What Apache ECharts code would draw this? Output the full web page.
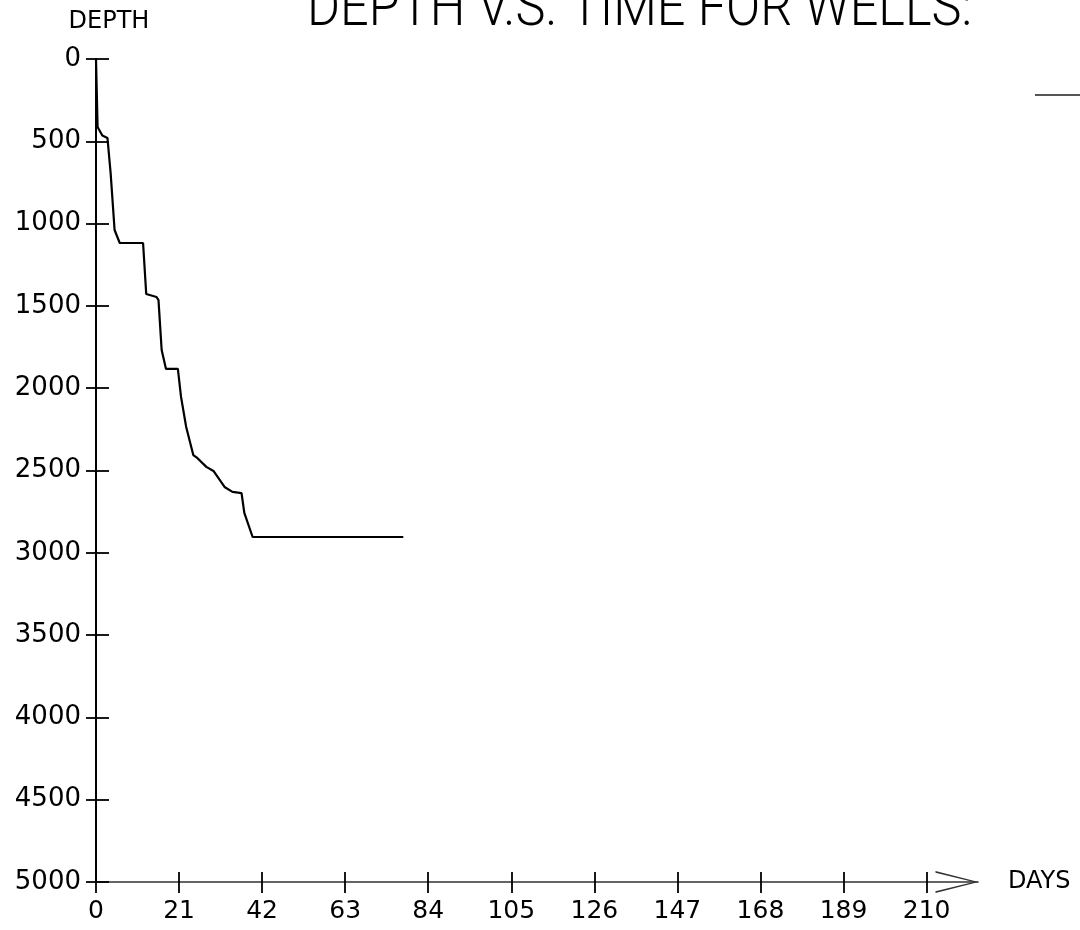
<!DOCTYPE html>
<html>
<head>
<meta charset="utf-8">
<script src="https://cdn.jsdelivr.net/npm/echarts@6/dist/echarts.min.js"></script>
<style>
html,body{margin:0;padding:0;background:#fff;}
#chart{width:1080px;height:930px;}
</style>
</head>
<body>
<div id="chart"></div>
<script>
// ---- data ----
var titleText = 'DEPTH V.S. TIME FOR WELLS:';
var wellName = 'WELL 1';
var days = [0, 0.4, 1.6, 2.9, 3.7, 4.7, 6.0, 11.9, 12.7, 15.3, 15.8, 16.6, 17.7, 20.7, 21.5, 22.8, 24.6, 25.6, 27.9, 29.7, 32.5, 34.5, 36.8, 37.5, 39.6, 77.7];
var depths = [0, 413, 465, 480, 693, 1039, 1118, 1118, 1428, 1446, 1465, 1768, 1883, 1883, 2053, 2236, 2406, 2424, 2478, 2503, 2600, 2630, 2637, 2758, 2904, 2904];
var dayTicks = [0, 21, 42, 63, 84, 105, 126, 147, 168, 189, 210];
var depthTicks = [0, 500, 1000, 1500, 2000, 2500, 3000, 3500, 4000, 4500, 5000];
var dayMax = 223;

var points = days.map(function (d, i) { return [d, depths[i]]; });

var labelFont = 'DejaVu Sans';
var chart = echarts.init(document.getElementById('chart'), null, {renderer: 'canvas'});

var arrowPath = 'path://M11 0 L22 43 L20.3 43 L11 5 L1.7 43 L0 43 Z';
var plain = function (v) { return String(v); };
var gridBox = {left: 96, right: 102, top: 59, bottom: 48, containLabel: false};
var tickStyle = {color: '#000', width: 1.8};

chart.setOption({
  backgroundColor: '#ffffff',
  animation: false,
  grid: [Object.assign({}, gridBox), Object.assign({}, gridBox)],
  legend: {
    left: 1030, top: 89, itemWidth: 50, itemHeight: 2, icon: 'rect',
    formatter: function () { return ''; },
    itemStyle: {color: '#555'},
    data: [wellName]
  },
  graphic: [{
    type: 'text',
    x: 307, y: 39,
    scaleX: 0.9, scaleY: 1,
    style: {
      text: titleText,
      font: '300 56px Roboto',
      fill: '#000',
      verticalAlign: 'bottom',
      align: 'left'
    }
  }],
  xAxis: [{
    type: 'value', min: 0, max: dayMax, gridIndex: 0,
    position: 'bottom',
    name: 'DAYS', nameLocation: 'end', nameGap: 30,
    nameTextStyle: {fontFamily: labelFont, fontSize: 24, color: '#000', padding: [0, 0, 14, 0], align: 'left', verticalAlign: 'middle'},
    axisLine: {show: true, onZero: false, lineStyle: {color: '#333', width: 1.5},
      symbol: ['none', arrowPath], symbolSize: [22, 43], symbolOffset: [0, -21]},
    axisTick: {show: true, inside: false, length: 11, customValues: dayTicks, lineStyle: tickStyle},
    axisLabel: {show: true, customValues: dayTicks, formatter: plain, margin: 17, fontFamily: labelFont, fontSize: 25, color: '#000'},
    splitLine: {show: false}
  }, {
    type: 'value', min: 0, max: dayMax, gridIndex: 1,
    position: 'bottom',
    axisLine: {show: false, onZero: false},
    axisTick: {show: true, inside: true, length: 10, customValues: dayTicks, lineStyle: tickStyle},
    axisLabel: {show: false},
    splitLine: {show: false}
  }],
  yAxis: [{
    type: 'value', min: 0, max: 5000, interval: 500, inverse: true, gridIndex: 0,
    position: 'left',
    name: 'DEPTH', nameLocation: 'start', nameGap: 25,
    nameTextStyle: {fontFamily: labelFont, fontSize: 24, color: '#000', padding: [0, 0, 0, 26]},
    axisLine: {show: true, onZero: false, lineStyle: {color: '#000', width: 2}},
    axisTick: {show: true, inside: false, length: 10, customValues: depthTicks, lineStyle: tickStyle},
    axisLabel: {show: true, customValues: depthTicks, formatter: plain, margin: 15, fontFamily: labelFont, fontSize: 26, color: '#000'},
    splitLine: {show: false}
  }, {
    type: 'value', min: 0, max: 5000, interval: 500, inverse: true, gridIndex: 1,
    position: 'left',
    axisLine: {show: false, onZero: false},
    axisTick: {show: true, inside: true, length: 13, customValues: depthTicks, lineStyle: tickStyle},
    axisLabel: {show: false},
    splitLine: {show: false}
  }],
  series: [{
    name: wellName,
    type: 'line',
    xAxisIndex: 0, yAxisIndex: 0,
    data: points,
    showSymbol: false,
    symbol: 'none',
    lineStyle: {color: '#000', width: 2.2},
    itemStyle: {color: '#000'},
    clip: false
  }]
});
</script>
</body>
</html>
